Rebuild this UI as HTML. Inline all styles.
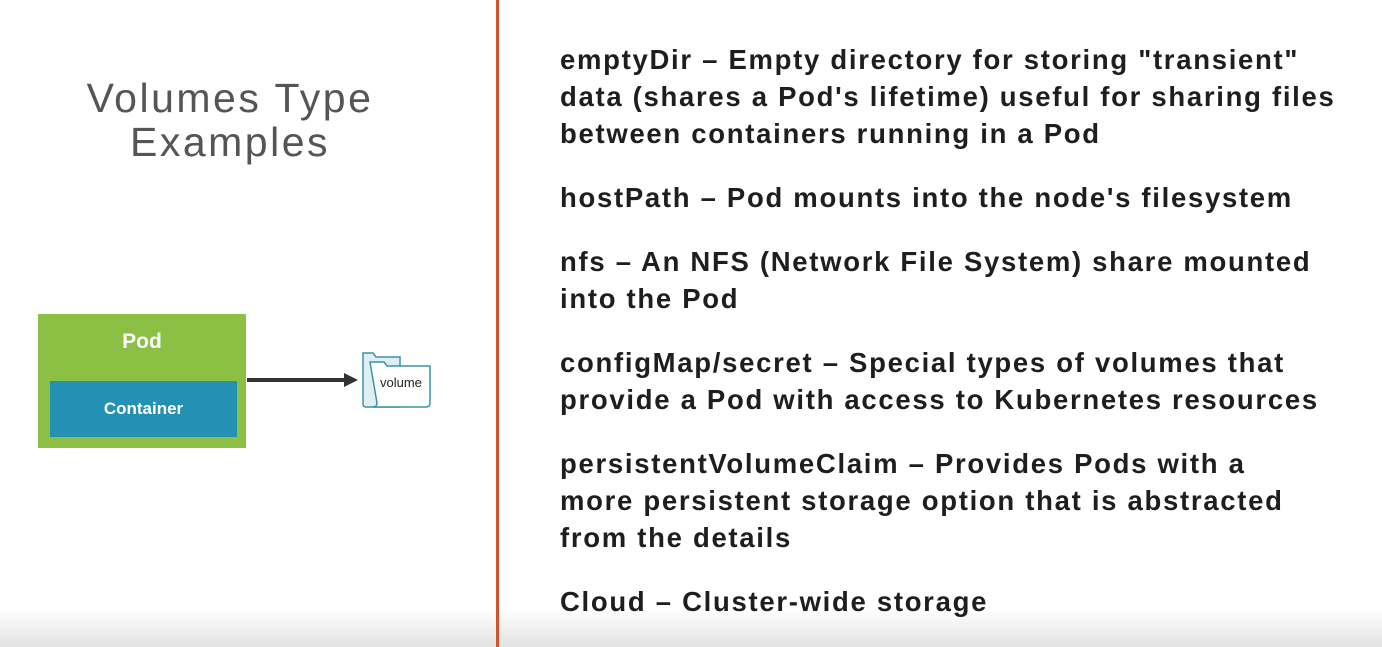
<!DOCTYPE html>
<html><head><style>
body{margin:0;width:1382px;height:647px;overflow:hidden;background:#fff;position:relative;font-family:"Liberation Sans",sans-serif}
.bot{position:absolute;left:0;top:608px;width:1382px;height:39px;background:linear-gradient(#fff,#e2e2e2)}
.vl{position:absolute;left:496px;top:0;width:3px;height:647px;background:#d2522b}
.title{position:absolute;left:30px;width:400px;top:76px;text-align:center;font-size:41px;line-height:44px;color:#555;letter-spacing:2.5px}
.pod{position:absolute;left:38px;top:314px;width:208px;height:134px;background:#8cc044}
.txt{position:absolute;left:560px;top:41px;font-size:27.5px;line-height:37px;font-weight:bold;color:#1e1e1e;white-space:nowrap;letter-spacing:1.7px}
.txt p{margin:0 0 27px 0}
</style></head><body>
<div class="bot"></div>
<div class="vl"></div>
<div class="title">Volumes Type<br>Examples</div>
<div class="pod"></div>
<div style="position:absolute;left:38px;width:208px;top:330px;text-align:center;color:#fff;font-weight:bold;font-size:21px">Pod</div>
<div style="position:absolute;left:50px;top:381px;width:187px;height:56px;background:#2490b4;color:#fff;font-weight:bold;font-size:17px;line-height:56px;text-align:center">Container</div>
<svg style="position:absolute;left:0;top:0" width="500" height="500">
<line x1="247" y1="380" x2="346" y2="380" stroke="#333" stroke-width="4"/>
<polygon points="344,373 358,380 344,387" fill="#333"/>
<path d="M363,353 h10 l3,4 h24 v50 h-34 q-3,0 -3,-3 z" fill="#dfeef2" stroke="#3a93a8" stroke-width="1.5"/>
<path d="M370,362 h14 l3,4 h43 v37 q0,4 -4,4 h-53 q4,0 4,-4 z" fill="#fff" stroke="#3a93a8" stroke-width="1.5"/>
<text x="380" y="387" font-family="Liberation Sans" font-size="13" fill="#222">volume</text>
</svg>
<div class="txt">
<p>emptyDir – Empty directory for storing "transient"<br>data (shares a Pod's lifetime) useful for sharing files<br>between containers running in a Pod</p>
<p>hostPath – Pod mounts into the node's filesystem</p>
<p>nfs – An NFS (Network File System) share mounted<br>into the Pod</p>
<p>configMap/secret – Special types of volumes that<br>provide a Pod with access to Kubernetes resources</p>
<p>persistentVolumeClaim – Provides Pods with a<br>more persistent storage option that is abstracted<br>from the details</p>
<p>Cloud – Cluster-wide storage</p>
</div>
</body></html>
